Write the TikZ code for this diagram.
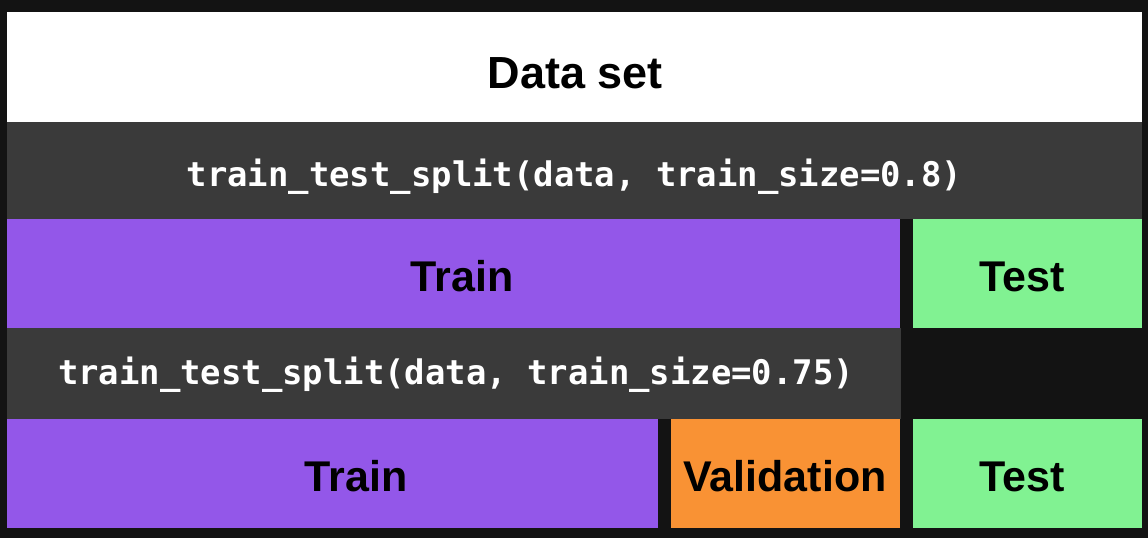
\documentclass[tikz,border=0pt]{standalone}
\usepackage{fontspec}
\newfontfamily\lblfont{Liberation Sans}
\newfontfamily\codefont{DejaVu Sans Mono}
\definecolor{bgc}{HTML}{131313}
\definecolor{bandc}{HTML}{3A3A3A}
\definecolor{purplec}{HTML}{9357E9}
\definecolor{greenc}{HTML}{81F292}
\definecolor{orangec}{HTML}{F99234}
\tikzset{
  boxst/.style={draw=none, inner sep=0pt, outer sep=0pt, anchor=north west},
  lbl/.style={inner sep=0pt, anchor=base, text=black, font=\lblfont\bfseries\fontsize{43}{50}\selectfont},
  code/.style={inner sep=0pt, anchor=base, text=white, font=\codefont\bfseries\fontsize{33.9}{40}\selectfont},
}
\begin{document}
\begin{tikzpicture}[x=1pt,y=-1pt]
\path[fill=bgc, use as bounding box] (0,0) rectangle (1148,538);
% boxes
\node[boxst, fill=white, minimum width=1135pt, minimum height=110pt] (dsbox) at (7,12) {};
\node[boxst, fill=bandc, minimum width=1135pt, minimum height=96.5pt] (band1) at (7,122) {};
\node[boxst, fill=purplec, minimum width=893pt, minimum height=109.5pt] (trainbox1) at (7,218.5) {};
\node[boxst, fill=greenc, minimum width=229pt, minimum height=109.5pt] (testbox1) at (912.7,218.5) {};
\node[boxst, fill=bandc, minimum width=893.7pt, minimum height=91.3pt] (band2) at (7,328) {};
\node[boxst, fill=purplec, minimum width=651pt, minimum height=109pt] (trainbox2) at (7,419.3) {};
\node[boxst, fill=orangec, minimum width=229pt, minimum height=109pt] (valbox) at (671,419.3) {};
\node[boxst, fill=greenc, minimum width=229pt, minimum height=109pt] (testbox2) at (912.7,419.3) {};
% labels
\node[lbl, font=\lblfont\bfseries\fontsize{45}{52}\selectfont] (ds) at (575.5,88) {Data set};
\node[code] (split1) at (574.5,186) {train\_test\_split(data, train\_size=0.8)};
\node[lbl] (train1) at (462,291.7) {Train};
\node[lbl] (test1) at (1022,291.5) {Test};
\node[code] (split2) at (456,384.5) {train\_test\_split(data, train\_size=0.75)};
\node[lbl] (train2) at (356,491.7) {Train};
\node[lbl] (val) at (785,491.7) {Validation};
\node[lbl] (test2) at (1022,491.7) {Test};
\end{tikzpicture}
\end{document}
